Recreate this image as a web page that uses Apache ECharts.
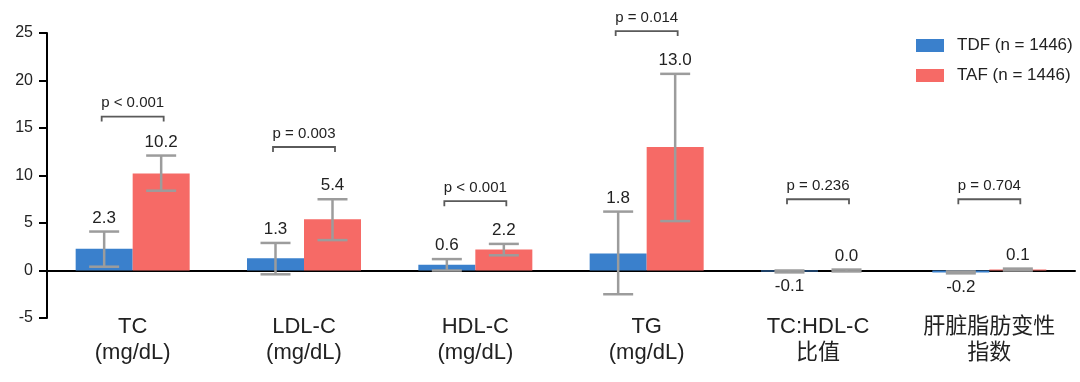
<!DOCTYPE html>
<html>
<head>
<meta charset="utf-8">
<script src="https://cdn.jsdelivr.net/npm/echarts@6/dist/echarts.min.js"></script>
<style>
html,body{margin:0;padding:0;background:#fff;}
#chart{width:1080px;height:382px;}
</style>
</head>
<body>
<div id="chart"></div>
<script>
const categories = ['TC\n(mg/dL)', 'LDL-C\n(mg/dL)', 'HDL-C\n(mg/dL)', 'TG\n(mg/dL)', 'TC:HDL-C\n比值', '肝脏脂肪变性\n指数'];
const seriesNames = ['TDF (n = 1446)', 'TAF (n = 1446)'];
const tdfValues = [2.3, 1.3, 0.6, 1.8, -0.1, -0.2];
const tafValues = [10.2, 5.4, 2.2, 13.0, 0.0, 0.1];
const tdfLow = [0.4, -0.4, 0.0, -2.5, -0.2, -0.3];
const tdfHigh = [4.1, 2.9, 1.2, 6.2, 0.0, -0.1];
const tafLow = [8.4, 3.2, 1.6, 5.2, -0.1, 0.0];
const tafHigh = [12.1, 7.5, 2.8, 20.7, 0.1, 0.2];
const pLabels = ['p < 0.001', 'p = 0.003', 'p < 0.001', 'p = 0.014', 'p = 0.236', 'p = 0.704'];
const pBracketLevel = [16.2, 13.0, 7.3, 25.2, 7.5, 7.5];
const yMin = -5, yMax = 25, yStep = 5;

const FONT = '"Liberation Sans", Arial, "Noto Sans CJK SC", sans-serif';
const BAR_W = 57;
const TEXT = '#222';

function errSeries(name, side, vals, lows, highs) {
  return {
    type: 'custom',
    name: name + ' err',
    z: 5,
    silent: true,
    data: categories.map((c, i) => [i, lows[i], highs[i], vals[i]]),
    encode: { x: 0, y: [1, 2] },
    renderItem: function (params, api) {
      const i = api.value(0);
      const lo = api.coord([i, api.value(1)]);
      const hi = api.coord([i, api.value(2)]);
      const v = api.value(3);
      const x = lo[0] + side * BAR_W / 2;
      const cap = 15;
      const st = { stroke: '#9c9c9c', lineWidth: 2.5, fill: null };
      const label = v.toFixed(1);
      const txt = v < 0
        ? { type: 'text', style: { text: label, x: x, y: lo[1] + 5, align: 'center', verticalAlign: 'top', font: '17px ' + FONT, fill: TEXT } }
        : { type: 'text', style: { text: label, x: x, y: hi[1] - 5, align: 'center', verticalAlign: 'bottom', font: '17px ' + FONT, fill: TEXT } };
      return {
        type: 'group',
        children: [
          { type: 'line', shape: { x1: x, y1: lo[1], x2: x, y2: hi[1] }, style: st },
          { type: 'line', shape: { x1: x - cap, y1: lo[1], x2: x + cap, y2: lo[1] }, style: st },
          { type: 'line', shape: { x1: x - cap, y1: hi[1], x2: x + cap, y2: hi[1] }, style: st },
          txt
        ]
      };
    }
  };
}

const option = {
  animation: false,
  backgroundColor: '#fff',
  textStyle: { fontFamily: FONT },
  grid: { left: 47, right: 5, top: 33, bottom: 64, containLabel: false, outerBoundsMode: 'none' },
  legend: {
    data: seriesNames,
    orient: 'vertical',
    left: 911,
    top: 32,
    itemWidth: 28,
    itemHeight: 13,
    itemGap: 13,
    icon: 'rect',
    textStyle: { fontSize: 17, color: TEXT, fontFamily: FONT, padding: [0, 0, 0, 8] }
  },
  xAxis: {
    type: 'category',
    data: categories,
    axisLine: { onZero: true, lineStyle: { color: '#000', width: 2 } },
    axisTick: { alignWithLabel: true, length: 8, lineStyle: { color: '#000', width: 2 } },
    axisLabel: { interval: 0, fontSize: 22, lineHeight: 26, margin: -4, color: TEXT, fontFamily: FONT },
    splitLine: { show: false }
  },
  yAxis: {
    type: 'value',
    min: yMin, max: yMax, interval: yStep,
    axisLine: { show: true, lineStyle: { color: '#000', width: 2 } },
    axisTick: { show: true, length: 8, lineStyle: { color: '#000', width: 2 } },
    axisLabel: { fontSize: 16, color: TEXT, margin: 14, fontFamily: FONT },
    splitLine: { show: false }
  },
  series: [
    { type: 'bar', name: seriesNames[0], data: tdfValues, barWidth: BAR_W, barGap: '0%', itemStyle: { color: '#3a80cc' } },
    { type: 'bar', name: seriesNames[1], data: tafValues, barWidth: BAR_W, barGap: '0%', itemStyle: { color: '#f66a66' } },
    errSeries(seriesNames[0], -1, tdfValues, tdfLow, tdfHigh),
    errSeries(seriesNames[1], 1, tafValues, tafLow, tafHigh),
    {
      type: 'custom',
      name: 'p',
      z: 6,
      silent: true,
      data: categories.map((c, i) => [i, pBracketLevel[i]]),
      encode: { x: 0, y: 1 },
      renderItem: function (params, api) {
        const i = api.value(0);
        const p = api.coord([i, api.value(1)]);
        const hw = 31, drop = 5;
        return {
          type: 'group',
          children: [
            { type: 'polyline', shape: { points: [[p[0] - hw, p[1] + drop], [p[0] - hw, p[1]], [p[0] + hw, p[1]], [p[0] + hw, p[1] + drop]] },
              style: { stroke: '#5a5a5a', lineWidth: 1.8, fill: null } },
            { type: 'text', style: { text: pLabels[i], x: p[0], y: p[1] - 6, align: 'center', verticalAlign: 'bottom', font: '15px ' + FONT, fill: TEXT } }
          ]
        };
      }
    }
  ]
};

const chart = echarts.init(document.getElementById('chart'), null, { renderer: 'canvas' });
chart.setOption(option);
</script>
</body>
</html>
